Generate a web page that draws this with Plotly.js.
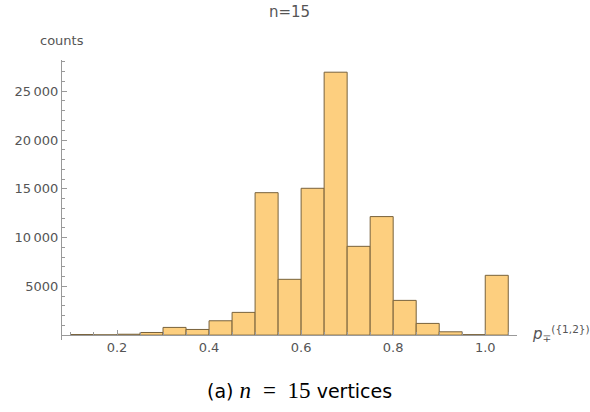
<!DOCTYPE html>
<html>
<head>
<meta charset="utf-8">
<script src="https://cdn.plot.ly/plotly-3.0.1.min.js"></script>
<style>html,body{margin:0;padding:0;background:#fff;}#chart{width:590px;height:412px;}</style>
</head>
<body>
<div id="chart"></div>
<script>
// Bin left edges (width 0.05) and counts
const binStarts = [0.10,0.15,0.20,0.25,0.30,0.35,0.40,0.45,0.50,0.55,0.60,0.65,0.70,0.75,0.80,0.85,0.90,0.95,1.00];
const counts    = [60,30,90,270,790,580,1470,2330,14600,5720,15050,26950,9100,12150,3560,1200,340,50,6130];
const binWidth = 0.05;
const xTickVals = [0.2,0.4,0.6,0.8,1.0];
const xTickText = ['0.2','0.4','0.6','0.8','1.0'];
const yTickVals = [5000,10000,15000,20000,25000];
const yTickText = ['5000','10\u2009000','15\u2009000','20\u2009000','25\u2009000'];

const centers = binStarts.map(s => s + binWidth/2);
const yMin = -500, yMax = 28200;
const trace = {
  type: 'bar',
  x: centers,
  y: counts,
  width: binStarts.map(() => binWidth),
  marker: {color: 'rgb(253,207,127)', line: {color: 'rgb(120,98,60)', width: 1}},
  hoverinfo: 'x+y'
};
const sans = 'DejaVu Sans, sans-serif';
const tickFont = {family: sans, size: 13, color: '#555'};
const nb = '\u00a0';
const layout = {
  width: 590, height: 412,
  margin: {l: 62, r: 73, t: 60, b: 72},
  paper_bgcolor: '#fff', plot_bgcolor: '#fff',
  showlegend: false,
  bargap: 0,
  title: {text: 'n=15', x: 0.5, xref: 'paper', y: 0.985, yanchor: 'top',
          font: {family: sans, size: 15, color: '#555'}},
  xaxis: {
    range: [0.0805, 1.069], showgrid: false, zeroline: false,
    showline: true, linecolor: '#999', linewidth: 1,
    anchor: 'free', position: (0 - yMin)/(yMax - yMin),
    tickvals: xTickVals, ticktext: xTickText,
    ticks: 'inside', ticklen: 5, tickcolor: '#999',
    minor: {dtick: 0.05, tick0: 0, ticks: 'inside', ticklen: 3, tickcolor: '#999', showgrid: false},
    tickfont: tickFont
  },
  yaxis: {
    range: [yMin, yMax], showgrid: false, zeroline: false,
    showline: true, linecolor: '#999', linewidth: 1,
    tickvals: yTickVals, ticktext: yTickText,
    ticks: 'inside', ticklen: 5, tickcolor: '#999',
    minor: {dtick: 1000, tick0: 0, ticks: 'inside', ticklen: 3, tickcolor: '#999', showgrid: false},
    tickfont: tickFont
  },
  annotations: [
    {text: 'counts', xref: 'paper', yref: 'paper', x: 0, y: 1.071, xanchor: 'center', yanchor: 'middle',
     showarrow: false, font: {family: sans, size: 13, color: '#555'}},
    {text: '<i>p</i><sub>\u2213</sub><sup>({1,2})</sup>', xref: 'paper', yref: 'paper', x: 1.028, y: 0.025,
     xanchor: 'left', yanchor: 'middle', showarrow: false,
     font: {family: sans, size: 15, color: '#555'}},
    {text: "(a) <span style=\"font-family:'Liberation Serif';font-style:italic;font-size:23px\">n</span>" + nb + nb +
           "<span style=\"font-family:'Liberation Serif';font-size:23px\">=" + nb + nb + "15</span> vertices",
     xref: 'paper', yref: 'paper', x: 0.522, y: -0.182, xanchor: 'center', yanchor: 'middle', showarrow: false,
     font: {family: sans, size: 19, color: '#000'}}
  ]
};
Plotly.newPlot('chart', [trace], layout, {displayModeBar: false, staticPlot: true});
</script>
</body>
</html>
